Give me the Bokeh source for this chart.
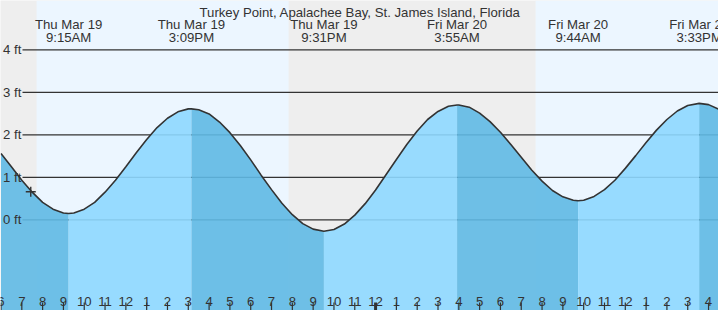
import numpy as np
from bokeh.plotting import figure
from bokeh.models import Range1d
from bokeh.embed import file_html
from bokeh.resources import INLINE
from bokeh.core.properties import value

# ---------------- data (hours since Thu Mar 19 00:00, heights in ft) ----------------
title = "Turkey Point, Apalachee Bay, St. James Island, Florida"

tide_hours = [6.0, 6.5, 7.0, 7.5, 8.0, 8.5, 9.0, 9.25,
              9.5, 10.0, 10.5, 11.0, 11.5, 12.0, 12.5, 13.0, 13.5, 14.0, 14.5, 15.0, 15.15,
              15.5, 16.0, 16.5, 17.0, 17.5, 18.0, 18.5, 19.0, 19.5, 20.0, 20.5, 21.0, 21.517,
              22.0, 22.5, 23.0, 23.5, 24.0, 24.5, 25.0, 25.5, 26.0, 26.5, 27.0, 27.5, 27.917,
              28.0, 28.5, 29.0, 29.5, 30.0, 30.5, 31.0, 31.5, 32.0, 32.5, 33.0, 33.5, 33.733,
              34.0, 34.5, 35.0, 35.5, 36.0, 36.5, 37.0, 37.5, 38.0, 38.5, 39.0, 39.55,
              40.0, 40.5]
tide_ft = [1.56, 1.25, 0.93, 0.65, 0.41, 0.25, 0.16, 0.15,
           0.16, 0.25, 0.41, 0.65, 0.93, 1.25, 1.58, 1.89, 2.17, 2.39, 2.54, 2.61, 2.61,
           2.59, 2.49, 2.30, 2.05, 1.75, 1.41, 1.05, 0.71, 0.39, 0.12, -0.09, -0.22, -0.27,
           -0.23, -0.10, 0.11, 0.38, 0.70, 1.06, 1.42, 1.77, 2.09, 2.36, 2.55, 2.67, 2.70,
           2.70, 2.65, 2.51, 2.31, 2.06, 1.77, 1.47, 1.17, 0.91, 0.69, 0.54, 0.46, 0.45,
           0.46, 0.55, 0.71, 0.93, 1.21, 1.51, 1.82, 2.11, 2.36, 2.56, 2.69, 2.74,
           2.71, 2.60]

extreme_hours = [9.25, 15.15, 21.517, 27.917, 33.733, 39.55]
extreme_days = ["Thu Mar 19", "Thu Mar 19", "Thu Mar 19", "Fri Mar 20", "Fri Mar 20", "Fri Mar 20"]
extreme_times = ["9:15AM", "3:09PM", "9:31PM", "3:55AM", "9:44AM", "3:33PM"]

day_starts = [7.71, 31.69]
day_ends = [19.82, 41.0]

now_hour = [7.43]
now_ft = [0.66]

hour_ticks = list(range(6, 41))
hour_labels = [str(h % 12 if h % 12 else 12) for h in hour_ticks]

ft_levels = [0, 1, 2, 3, 4]
ft_labels = ["0 ft", "1 ft", "2 ft", "3 ft", "4 ft"]

# ---------------- layout / style ----------------
W, H = 718, 310
PX_PER_HOUR = 20.81
PX_PER_FT = 42.5
ZERO_PY = 219.3
X_START = 6.0 - 0.5 / PX_PER_HOUR
X_END = X_START + W / PX_PER_HOUR
Y_TOP = ZERO_PY / PX_PER_FT
Y_BOTTOM = Y_TOP - H / PX_PER_FT


def px_x(px):
    return X_START + px / PX_PER_HOUR


def py_y(py):
    return Y_TOP - py / PX_PER_FT


NIGHT = "#eeeeee"
DAY = "#ecf6ff"
DARK = "#5fb9e4"
LIGHT = "#8ed8ff"
INK = "#333333"
FONT = value("Liberation Sans")
FS = "13.2px"

p = figure(width=W, height=H, output_backend="svg", toolbar_location=None,
           x_axis_type=None, y_axis_type=None,
           x_range=Range1d(X_START, X_END), y_range=Range1d(Y_BOTTOM, Y_TOP),
           min_border=0, min_border_left=0, min_border_right=0,
           min_border_top=0, min_border_bottom=0)
p.outline_line_color = None
p.background_fill_color = NIGHT
p.border_fill_color = NIGHT
p.grid.visible = False

# daylight shading
p.quad(left=day_starts, right=day_ends, bottom=Y_BOTTOM, top=Y_TOP,
       fill_color=DAY, line_color=None)

# horizontal grid lines
p.segment(x0=[px_x(22)] * len(ft_levels), x1=[X_END] * len(ft_levels),
          y0=ft_levels, y1=ft_levels, line_color=INK, line_width=1.2)

# water fill: dark while falling, light while rising
t = np.array(tide_hours)
h = np.array(tide_ft)
bounds = [t[0]] + extreme_hours + [t[-1]]
for a, b in zip(bounds[:-1], bounds[1:]):
    m = (t >= a - 1e-9) & (t <= b + 1e-9)
    ts, hs = t[m], h[m]
    color = DARK if hs[-1] < hs[0] else LIGHT
    p.varea(x=ts, y1=np.full(len(ts), Y_BOTTOM), y2=hs,
            fill_color=color, fill_alpha=0.9)

# tide curve
p.line(tide_hours, tide_ft, line_color=INK, line_width=1.6)

# current-time marker
p.scatter(now_hour, now_ft, marker="cross", size=10, line_color=INK, line_width=1.4)

# y labels
p.text(x=[px_x(2.5)] * len(ft_levels), y=ft_levels, text=ft_labels,
       text_font=FONT, text_font_size=FS, text_color=INK,
       text_align="left", text_baseline="middle")

# hour ticks and labels
is_midnight = [hh % 24 == 0 for hh in hour_ticks]
p.segment(x0=hour_ticks, x1=hour_ticks,
          y0=[py_y(302)] * len(hour_ticks), y1=[Y_BOTTOM] * len(hour_ticks),
          line_color=INK, line_width=[3 if mm else 1.2 for mm in is_midnight])
p.text(x=hour_ticks, y=[py_y(300.7)] * len(hour_ticks), text=hour_labels,
       text_font=FONT, text_font_size=FS, text_color=INK,
       text_align="center", text_baseline="alphabetic")

# extreme labels on top
p.text(x=extreme_hours, y=[py_y(24.3)] * len(extreme_hours), text=extreme_days,
       text_font=FONT, text_font_size=FS, text_color=INK,
       text_align="center", text_baseline="alphabetic")
p.text(x=extreme_hours, y=[py_y(36.7)] * len(extreme_hours), text=extreme_times,
       text_font=FONT, text_font_size=FS, text_color=INK,
       text_align="center", text_baseline="alphabetic")

# title
p.text(x=[px_x(359.5)], y=[py_y(12.3)], text=[title],
       text_font=FONT, text_font_size=FS, text_color=INK,
       text_align="center", text_baseline="alphabetic")

open("out.html", "w").write(file_html(p, INLINE))
